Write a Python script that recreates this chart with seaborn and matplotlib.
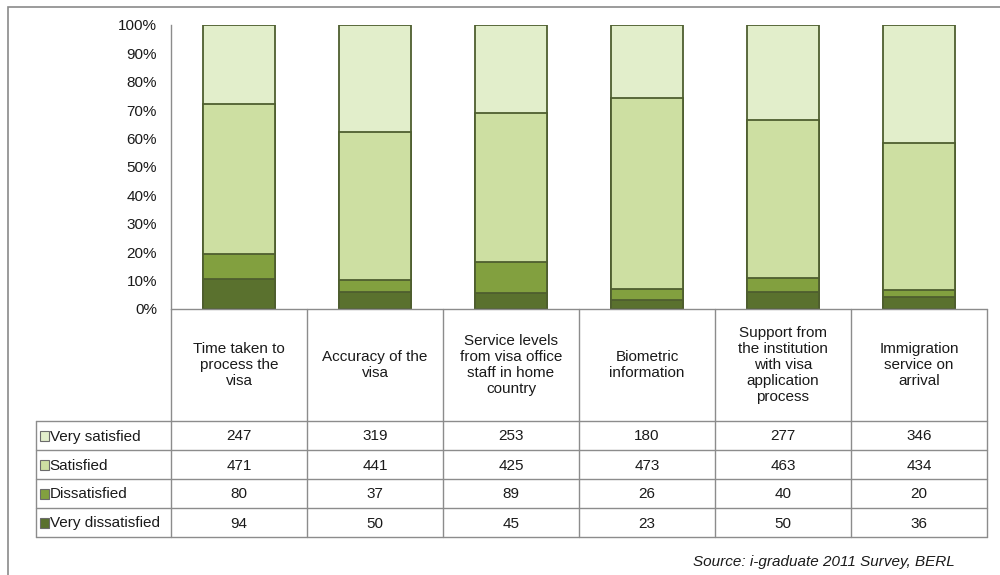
import matplotlib
matplotlib.use("Agg")
import matplotlib.pyplot as plt
from matplotlib.patches import Rectangle
import seaborn as sns
import pandas as pd
import numpy as np

# data
categories = ["Time taken to\nprocess the\nvisa",
              "Accuracy of the\nvisa",
              "Service levels\nfrom visa office\nstaff in home\ncountry",
              "Biometric\ninformation",
              "Support from\nthe institution\nwith visa\napplication\nprocess",
              "Immigration\nservice on\narrival"]
series = ["Very satisfied", "Satisfied", "Dissatisfied", "Very dissatisfied"]
very_satisfied = [247, 319, 253, 180, 277, 346]
satisfied = [471, 441, 425, 473, 463, 434]
dissatisfied = [80, 37, 89, 26, 40, 20]
very_dissatisfied = [94, 50, 45, 23, 50, 36]
y_ticks = [0, 10, 20, 30, 40, 50, 60, 70, 80, 90, 100]
source = "Source: i-graduate 2011 Survey, BERL"

colors = {"Very satisfied": "#e2eecb", "Satisfied": "#cddfa2",
          "Dissatisfied": "#82a03f", "Very dissatisfied": "#5a712e"}
edge = "#4e5e2f"
grid_col = "#8c8c8c"
fs = 11

sns.set_theme(style="white")
plt.rcParams["font.family"] = ["Liberation Sans", "DejaVu Sans"]

counts = pd.DataFrame({"Very satisfied": very_satisfied, "Satisfied": satisfied,
                       "Dissatisfied": dissatisfied,
                       "Very dissatisfied": very_dissatisfied})
pct = counts.div(counts.sum(axis=1), axis=0) * 100
# cumulative from the bottom (very dissatisfied) up
order_bottom_up = series[::-1]
cum = pct[order_bottom_up].cumsum(axis=1)

fig = plt.figure(figsize=(10, 5.75), dpi=100)
W, H = 1000, 575

def fax(x0, y0, x1, y1):
    return [x0 / W, 1 - y1 / H, (x1 - x0) / W, (y1 - y0) / H]

ax = fig.add_axes(fax(171, 25, 987, 309))
xlabels = [f"c{i}" for i in range(len(categories))]
# draw tallest stack first, smaller ones on top
for s in series:
    df = pd.DataFrame({"cat": xlabels, "val": cum[s].values})
    sns.barplot(data=df, x="cat", y="val", color=colors[s], width=0.53,
                edgecolor=edge, linewidth=1.3, saturation=1, ax=ax)

ax.set_ylim(0, 100)
ax.set_xlim(-0.5, len(categories) - 0.5)
ax.set_yticks(y_ticks)
ax.set_yticklabels([f"{v}%" for v in y_ticks], fontsize=fs, color="#1a1a1a")
ax.set_xticks([])
ax.set_xlabel("")
ax.set_ylabel("")
ax.tick_params(axis="y", length=0, pad=10)
for sp in ["top", "right", "bottom"]:
    ax.spines[sp].set_visible(False)
ax.spines["left"].set_color(grid_col)
ax.spines["left"].set_linewidth(1)

# data table beneath the bars
tax = fig.add_axes(fax(36, 309, 987, 537))
n = len(categories)
lab_left = -0.5 - 135 / 136
tax.set_xlim(lab_left, n - 0.5)
tax.set_ylim(228, 0)
tax.axis("off")
row_edges = [0, 112, 141, 170, 199, 228]
lw = 1
# horizontal lines
tax.plot([-0.5, n - 0.5], [0, 0], color=grid_col, lw=lw, clip_on=False)
for yy in row_edges[1:]:
    tax.plot([lab_left, n - 0.5], [yy, yy], color=grid_col, lw=lw, clip_on=False)
# vertical lines
for i in range(n + 1):
    tax.plot([i - 0.5, i - 0.5], [0, 228], color=grid_col, lw=lw, clip_on=False)
tax.plot([lab_left, lab_left], [112, 228], color=grid_col, lw=lw, clip_on=False)

for i, c in enumerate(categories):
    tax.text(i, 56, c, ha="center", va="center", fontsize=fs,
             color="#1a1a1a", linespacing=1.2)

values = [very_satisfied, satisfied, dissatisfied, very_dissatisfied]
for r, (s, vals) in enumerate(zip(series, values)):
    yc = (row_edges[r + 1] + row_edges[r + 2]) / 2
    tax.add_patch(Rectangle((lab_left + 0.03, yc - 5), 0.068, 10,
                            facecolor=colors[s], edgecolor="#6b6b6b", lw=0.8))
    tax.text(lab_left + 0.1, yc + 1, s, ha="left", va="center", fontsize=fs,
             color="#1a1a1a")
    for i, v in enumerate(vals):
        tax.text(i, yc + 1, str(v), ha="center", va="center", fontsize=fs,
                 color="#1a1a1a")

fig.text(955 / W, 1 - 562 / H, source, ha="right", va="center",
         fontsize=fs, style="italic", color="#1a1a1a")

# outer chart border (top and left visible)
fig.add_artist(Rectangle((8 / W, -0.1), 1.2, 1.1 - 7 / H, transform=fig.transFigure,
                         fill=False, edgecolor="#8a8a8a", lw=1.2))

fig.savefig("out.png", dpi=100)
